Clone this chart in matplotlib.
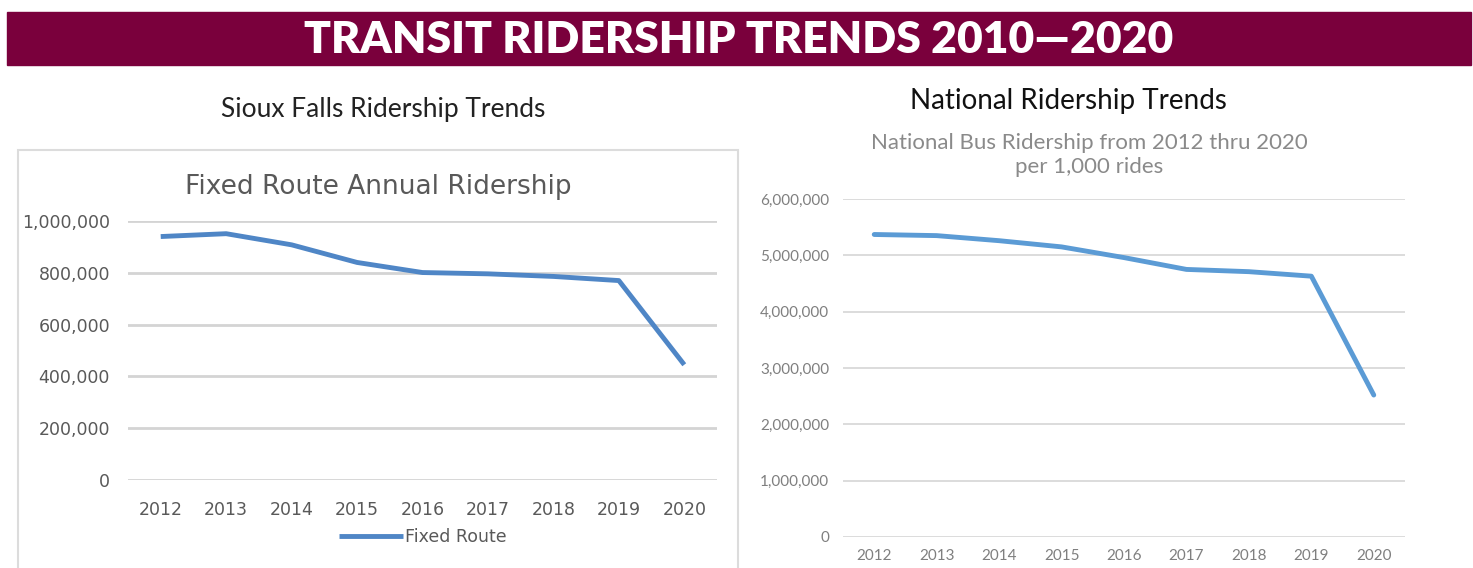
import matplotlib.pyplot as plt
import matplotlib.patches as mpatches
from matplotlib.ticker import FuncFormatter

years = ["2012", "2013", "2014", "2015", "2016", "2017", "2018", "2019", "2020"]
sioux_falls = [940000, 951000, 908000, 840000, 801000, 796000, 786000, 770000, 445000]
national = [5370000, 5350000, 5260000, 5150000, 4960000, 4750000, 4710000, 4630000, 2520000]

W, H = 1473, 568
fig = plt.figure(figsize=(W / 100, H / 100), dpi=100)


def box(x0, y0, x1, y1):
    # pixel box (top-left origin) -> figure fraction rect
    return [x0 / W, 1 - y1 / H, (x1 - x0) / W, (y1 - y0) / H]


commas = FuncFormatter(lambda v, p: f"{int(v):,}")

# banner
fig.patches.append(mpatches.Rectangle((7 / W, 1 - 65 / H), (1471 - 7) / W, 53 / H,
                                      transform=fig.transFigure, color="#7a003c", zorder=0))
fig.text(739 / W, 1 - 40 / H, "TRANSIT RIDERSHIP TRENDS 2010\u20142020", color="white",
         fontsize=32, fontweight="heavy", family="Lato", ha="center", va="center")

# left panel frame
fig.patches.append(mpatches.Rectangle((18 / W, -0.01), (738 - 18) / W, 1 - 150 / H + 0.01,
                                      transform=fig.transFigure, fill=False,
                                      edgecolor="#dcdcdc", lw=1.5, zorder=0))
fig.text(383 / W, 1 - 110 / H, "Sioux Falls Ridership Trends", color="#222222",
         fontsize=19, family="Lato", ha="center", va="center")
fig.text(378 / W, 1 - 187 / H, "Fixed Route Annual Ridership", color="#595959",
         fontsize=19, family="DejaVu Sans", ha="center", va="center")

ax = fig.add_axes(box(128, 221, 717, 480))
x = range(len(years))
ax.plot(x, sioux_falls, color="#4f86c6", lw=3.5, label="Fixed Route", solid_capstyle="butt")
ax.set_xlim(-0.5, len(years) - 0.5)
ax.set_ylim(0, 1000000)
ax.set_yticks(range(0, 1000001, 200000))
ax.yaxis.set_major_formatter(commas)
ax.set_xticks(list(x))
ax.set_xticklabels(years)
ax.grid(axis="y", color="#d4d4d4", lw=2)
ax.set_axisbelow(True)
for s in ax.spines.values():
    s.set_visible(False)
ax.tick_params(length=0, labelsize=12.5, labelcolor="#595959", pad=15)
ax.tick_params(axis="y", pad=13)
ax.legend(loc="center", bbox_to_anchor=(0.5, -0.22), frameon=False, handlelength=3.7,
          handletextpad=0.1, prop={"family": "DejaVu Sans", "size": 12.5},
          labelcolor="#595959")

# right panel
fig.text(1068 / W, 1 - 101 / H, "National Ridership Trends", color="#111111",
         fontsize=20, family="Lato", ha="center", va="center")
fig.text(1089 / W, 1 - 155 / H, "National Bus Ridership from 2012 thru 2020\nper 1,000 rides",
         color="#8a8a8a", fontsize=16, family="Lato", ha="center",
         va="center", linespacing=1.25)

ax2 = fig.add_axes(box(843, 199, 1405, 537))
ax2.plot(x, national, color="#5b9bd5", lw=3.5, solid_capstyle="round")
ax2.set_xlim(-0.5, len(years) - 0.5)
ax2.set_ylim(0, 6000000)
ax2.set_yticks(range(0, 6000001, 1000000))
ax2.yaxis.set_major_formatter(commas)
ax2.set_xticks(list(x))
ax2.set_xticklabels(years)
ax2.grid(axis="y", color="#d9d9d9", lw=1.3)
ax2.set_axisbelow(True)
for s in ax2.spines.values():
    s.set_visible(False)
ax2.tick_params(length=0, labelsize=11, labelcolor="#7f7f7f", pad=9)
ax2.tick_params(axis="y", pad=10)
for t in ax2.get_xticklabels() + ax2.get_yticklabels():
    t.set_family("Lato")

fig.savefig("out.png", dpi=100)
